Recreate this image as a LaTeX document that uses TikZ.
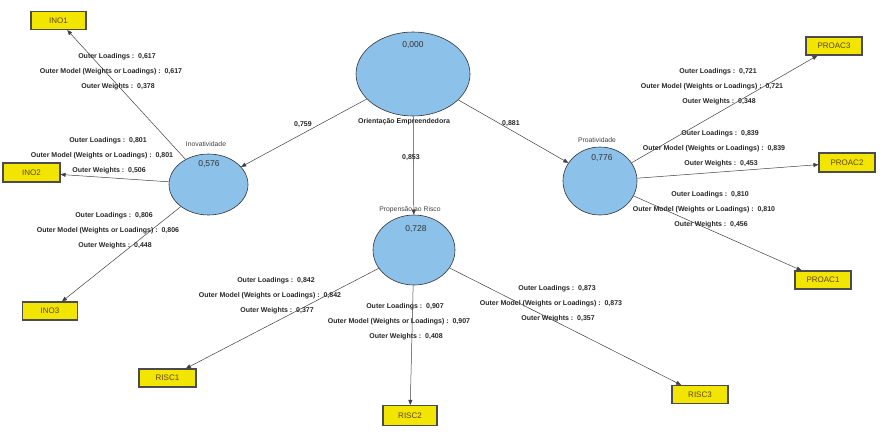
\documentclass[tikz,border=0pt]{standalone}
\usepackage{fontspec}
\setmainfont{Liberation Sans}
\usetikzlibrary{shapes.geometric,arrows.meta}
\definecolor{latblue}{RGB}{140,193,234}
\definecolor{boxyellow}{RGB}{242,230,0}
\definecolor{boxtext}{RGB}{95,65,30}
\tikzset{
    latent/.style={ellipse, draw=black!80, fill=latblue, inner sep=0pt, line width=0.6pt},
    indicator/.style={rectangle, draw=black!70, line width=1.1pt, fill=boxyellow, minimum width=55, minimum height=18, inner sep=0pt, text=boxtext, font=\fontsize{8}{9}\selectfont},
    rvalue/.style={text=black!80, font=\fontsize{8.5}{9}\selectfont},
    lvname/.style={text=black!75, font=\fontsize{6.8}{7}\selectfont},
    wlabel/.style={text=black!85, font=\bfseries\fontsize{7}{8}\selectfont, inner sep=0pt},
    link/.style={draw=black!75, line width=0.5pt, -{Triangle[length=5pt,width=4pt]}}
}

\begin{document}
\begin{tikzpicture}[x=1pt,y=-1pt]
    \useasboundingbox (0,0) rectangle (883,437);
    % latent variables
    \node[latent, minimum width=114, minimum height=84] (orient) at (413,74) {};
    \node[latent, minimum width=79, minimum height=61] (inov) at (208.5,184.5) {};
    \node[latent, minimum width=74, minimum height=68] (proat) at (600,181) {};
    \node[latent, minimum width=82, minimum height=70] (risco) at (414,250) {};
    \node[rvalue] (orientval) at (413,45) {0,000};
    \node[rvalue] (inovval) at (209,164) {0,576};
    \node[rvalue] (proatval) at (602,158) {0,776};
    \node[rvalue] (riscoval) at (416,229) {0,728};
    \node[wlabel] (orientname) at (404,122) {Orientação Empreendedora};
    \node[lvname] (inovname) at (206,144) {Inovatividade};
    \node[lvname] (proatname) at (597,140) {Proatividade};
    \node[lvname] (risconame) at (410,210) {Propensão ao Risco};

    % indicators
    \node[indicator] (ino1) at (58.5,20.5) {INO1};
    \node[indicator, minimum width=57, minimum height=19] (ino2) at (31.5,172.5) {INO2};
    \node[indicator] (ino3) at (50,311) {INO3};
    \node[indicator, minimum width=57] (risc1) at (167.5,378) {RISC1};
    \node[indicator, minimum width=54, minimum height=20] (risc2) at (410,415.5) {RISC2};
    \node[indicator, minimum width=56] (risc3) at (700,394.5) {RISC3};
    \node[indicator, minimum width=56] (proac3) at (834,46) {PROAC3};
    \node[indicator, minimum width=56, minimum height=19] (proac2) at (847,162.5) {PROAC2};
    \node[indicator, minimum width=56] (proac1) at (823,280) {PROAC1};

    % outer model labels
    \foreach \nm/\xa/\ya/\ld/\wt in {ino1/117/57/617/378, ino2/108/141/801/506, ino3/114/216/806/448,
        risc1/276/281/842/377, risc2/405/307/907/408, risc3/557/289/873/357,
        proac3/718/72/721/348, proac2/720/134/839/453, proac1/710/195/810/456} {
        \node[wlabel] (\nm-ol) at (\xa,\ya) {Outer Loadings :\ \ 0,\ld};
        \node[wlabel] (\nm-om) at (\xa-6,\ya+15) {Outer Model (Weights or Loadings) :\ \ 0,\ld};
        \node[wlabel] (\nm-ow) at (\xa+1,\ya+30) {Outer Weights :\ \ 0,\wt};
    }

    % path coefficients
    \node[wlabel] (c-inov) at (303,125) {0,759};
    \node[wlabel] (c-risco) at (411,158) {0,853};
    \node[wlabel] (c-proat) at (511,124) {0,881};

    % inner model
    \draw[link] (orient) -- (inov);
    \draw[link] (orient) -- (risco);
    \draw[link] (orient) -- (proat);

    % outer model
    \draw[link] (inov) -- (ino1);
    \draw[link] (inov) -- (ino2);
    \draw[link] (inov) -- (ino3);
    \draw[link] (risco) -- (risc1);
    \draw[link] (risco) -- (risc2);
    \draw[link] (risco) -- (risc3);
    \draw[link] (proat) -- (proac1);
    \draw[link] (proat) -- (proac2);
    \draw[link] (proat) -- (proac3);
\end{tikzpicture}
\end{document}
